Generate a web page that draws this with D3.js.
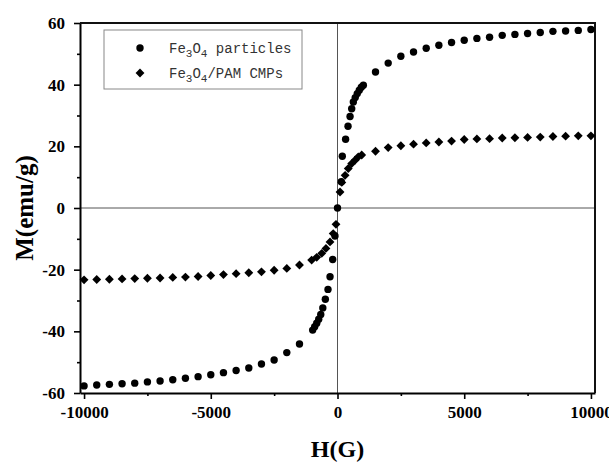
<!DOCTYPE html>
<html>
<head>
<meta charset="utf-8">
<script src="https://cdn.jsdelivr.net/npm/d3@7"></script>
<style>
  body { margin: 0; background: #fff; }
  svg { display: block; }
</style>
</head>
<body>
<svg id="chart" width="609" height="462"></svg>
<script>
// Fe3O4 particles (circles)
const particlesH = [-10000, -9500, -9000, -8500, -8000, -7500, -7000, -6500, -6000, -5500, -5000, -4500, -4000, -3500, -3000, -2500, -2000, -1500,
  -980, -900, -820, -740, -660, -580, -480, -375, -295, -190, -100, 0,
  150, 190, 320, 415, 495, 560, 625, 700, 780, 860, 940, 1020,
  1500, 2000, 2500, 3000, 3500, 4000, 4500, 5000, 5500, 6000, 6500, 7000, 7500, 8000, 8500, 9000, 9500, 10000];
const particlesM = [-57.7, -57.4, -57.2, -57.0, -56.8, -56.4, -56.1, -55.7, -55.2, -54.7, -54.1, -53.4, -52.7, -51.9, -50.6, -49.3, -46.9, -44.1,
  -39.6, -38.5, -37.4, -36.1, -34.5, -32.4, -29.6, -26.4, -22.3, -16.7, -9.1, 0,
  8.5, 16.8, 22.3, 26.5, 29.7, 32.2, 34.4, 35.8, 37.1, 38.2, 39.2, 39.8,
  44.1, 47.0, 49.2, 50.6, 51.8, 52.8, 53.7, 54.4, 55.0, 55.4, 56.0, 56.3, 56.6, 56.9, 57.3, 57.4, 57.6, 57.9];

// Fe3O4/PAM CMPs (diamonds)
const cmpsH = [-10000, -9500, -9000, -8500, -8000, -7500, -7000, -6500, -6000, -5500, -5000, -4500, -4000, -3500, -3000, -2500, -2000, -1500,
  -1020, -820, -620, -455, -295, -170, -60,
  100, 170, 300, 425, 560, 690, 820, 955,
  1500, 2000, 2500, 3000, 3500, 4000, 4500, 5000, 5500, 6000, 6500, 7000, 7500, 8000, 8500, 9000, 9500, 10000];
const cmpsM = [-23.3, -23.2, -23.1, -23.0, -22.9, -22.8, -22.7, -22.5, -22.4, -22.2, -21.9, -21.6, -21.3, -21.0, -20.7, -20.2, -19.6, -18.5,
  -16.9, -16.0, -14.7, -13.1, -11.0, -8.3, -5.3,
  5.2, 8.3, 10.6, 12.8, 14.4, 15.5, 16.6, 17.2,
  18.4, 19.6, 20.2, 20.7, 21.1, 21.4, 21.7, 22.2, 22.4, 22.5, 22.7, 22.8, 22.9, 23.0, 23.2, 23.3, 23.4, 23.4];

const xTicks = [-10000, -5000, 0, 5000, 10000];
const yTicks = [-60, -40, -20, 0, 20, 40, 60];

const svg = d3.select("#chart");
const plotLeft = 80, plotRight = 595, plotTop = 23, plotBottom = 393;

const x = d3.scaleLinear().domain([-10160, 10160]).range([plotLeft, plotRight]);
const y = d3.scaleLinear().domain([-60, 60]).range([plotBottom, plotTop]);

const serif = "'Liberation Serif', 'Times New Roman', serif";
const plain = d => String(d);

// zero lines
svg.append("line")
  .attr("x1", plotLeft).attr("x2", plotRight)
  .attr("y1", y(0)).attr("y2", y(0))
  .attr("stroke", "#555").attr("stroke-width", 1);
svg.append("line")
  .attr("x1", x(0)).attr("x2", x(0))
  .attr("y1", plotTop).attr("y2", plotBottom)
  .attr("stroke", "#555").attr("stroke-width", 1);

// minor ticks
const xMinor = d3.range(-7500, 10001, 5000);
const yMinor = d3.range(-50, 51, 20);

svg.append("g")
  .attr("transform", "translate(0," + plotBottom + ")")
  .call(d3.axisBottom(x).tickValues(xTicks).tickFormat(plain).tickSize(6).tickSizeOuter(0).tickPadding(7));
svg.append("g")
  .attr("transform", "translate(0," + plotBottom + ")")
  .call(d3.axisBottom(x).tickValues(xMinor).tickSize(3).tickFormat("").tickSizeOuter(0))
  .select(".domain").remove();

svg.append("g")
  .attr("transform", "translate(" + plotLeft + ",0)")
  .call(d3.axisLeft(y).tickValues(yTicks).tickFormat(plain).tickSize(6).tickSizeOuter(0).tickPadding(9));
svg.append("g")
  .attr("transform", "translate(" + plotLeft + ",0)")
  .call(d3.axisLeft(y).tickValues(yMinor).tickSize(3).tickFormat("").tickSizeOuter(0))
  .select(".domain").remove();

svg.selectAll(".tick line").attr("stroke", "#000").attr("stroke-width", 1.6);
svg.selectAll(".domain").attr("stroke", "#000").attr("stroke-width", 2);
svg.selectAll(".tick text")
  .attr("fill", "#000")
  .style("font-family", serif)
  .style("font-weight", "bold")
  .style("font-size", "17px");

// top and right frame
svg.append("line")
  .attr("x1", plotLeft).attr("x2", plotRight + 1)
  .attr("y1", plotTop).attr("y2", plotTop)
  .attr("stroke", "#111").attr("stroke-width", 2);
svg.append("line")
  .attr("x1", plotRight).attr("x2", plotRight)
  .attr("y1", plotTop).attr("y2", plotBottom)
  .attr("stroke", "#111").attr("stroke-width", 2);

// axis titles
svg.append("text")
  .attr("x", x(0))
  .attr("y", 457)
  .attr("text-anchor", "middle")
  .style("font-family", serif)
  .style("font-weight", "bold")
  .style("font-size", "24px")
  .text("H(G)");

svg.append("text")
  .attr("transform", "translate(33," + y(0) + ") rotate(-90)")
  .attr("text-anchor", "middle")
  .style("font-family", serif)
  .style("font-weight", "bold")
  .style("font-size", "25px")
  .text("M(emu/g)");

// data
const particles = particlesH.map((h, i) => ({ h: h, m: particlesM[i] }));
const cmps = cmpsH.map((h, i) => ({ h: h, m: cmpsM[i] }));

const diamond = d3.symbol().type(d3.symbolDiamond2).size(50);

svg.append("g").selectAll("path")
  .data(cmps)
  .enter()
  .append("path")
  .attr("d", diamond)
  .attr("transform", d => "translate(" + x(d.h) + "," + y(d.m) + ")")
  .attr("fill", "#000");

svg.append("g").selectAll("circle")
  .data(particles)
  .enter()
  .append("circle")
  .attr("cx", d => x(d.h))
  .attr("cy", d => y(d.m))
  .attr("r", 3.7)
  .attr("fill", "#000");

// legend
const legend = svg.append("g");
legend.append("rect")
  .attr("x", 104).attr("y", 30)
  .attr("width", 198).attr("height", 59)
  .attr("fill", "#fff")
  .attr("stroke", "#888").attr("stroke-width", 1);

legend.append("circle")
  .attr("cx", 140).attr("cy", 48).attr("r", 3.7).attr("fill", "#000");
legend.append("path")
  .attr("d", diamond)
  .attr("transform", "translate(140,73)")
  .attr("fill", "#000");

const mono = "'Liberation Mono', 'DejaVu Sans Mono', monospace";
const legendLabels = [["Fe", "3", "O", "4", " particles"], ["Fe", "3", "O", "4", "/PAM CMPs"]];
legendLabels.forEach((parts, i) => {
  const t = legend.append("text")
    .attr("x", 169)
    .attr("y", 53 + i * 25)
    .attr("fill", "#333")
    .style("font-family", mono)
    .style("font-size", "14px");
  parts.forEach((p, j) => {
    const sub = j === 1 || j === 3;
    t.append("tspan")
      .attr("dy", sub ? 4 : (j > 0 ? -4 : 0))
      .style("font-size", sub ? "11px" : "14px")
      .text(p);
  });
});
</script>
</body>
</html>
